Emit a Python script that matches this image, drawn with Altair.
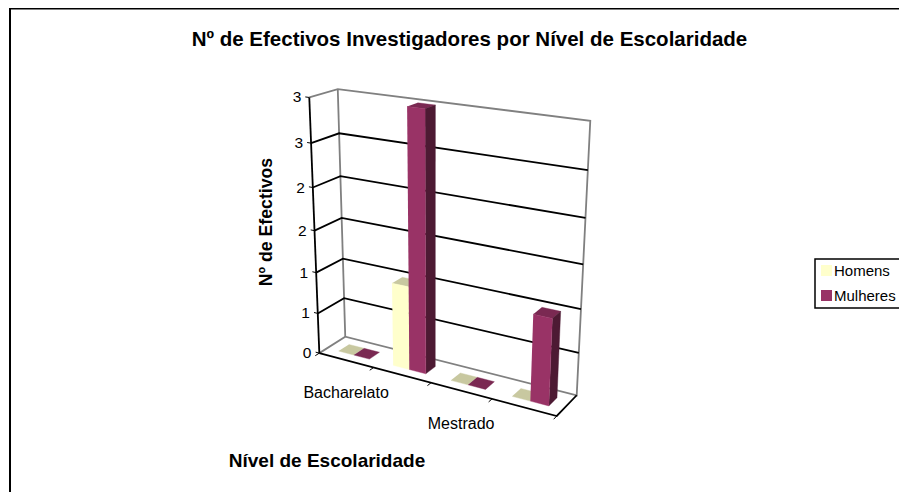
import altair as alt
import numpy as np
import pandas as pd

W, H = 891, 484
FONT = "Liberation Sans"

categories = ["Bacharelato", "", "Mestrado", ""]
homens = [0, 1, 0, 0]
mulheres = [0, 3, 0, 1]
series = ["Homens", "Mulheres"]
series_colors = ["#FFFFCC", "#993366"]
top_colors = ["#C8C8A0", "#7A2952"]
side_colors = ["#99997A", "#4D1A33"]
value_ticks = [0, 0.5, 1, 1.5, 2, 2.5, 3]
value_labels = ["0", "1", "1", "2", "2", "3", "3"]

# camera calibration: (category, depth, value) -> page pixel
calib = [
    ((0, 0, 0), (319.5, 353)), ((4, 0, 0), (557, 416)), ((4, 1, 0), (577, 395)),
    ((0, 1, 0), (345, 337)), ((0, 0, 3), (309, 97)), ((0, 1, 3), (338, 89)),
    ((4, 1, 3), (590, 121)), ((1, 0, 0), (373, 367)), ((2, 0, 0), (431, 383)),
    ((3, 0, 0), (492, 399)), ((0, 0, 0.5), (318, 313)), ((0, 0, 1), (316, 273)),
    ((0, 0, 1.5), (315, 231)), ((0, 0, 2), (313, 188)), ((0, 0, 2.5), (311, 143)),
]
rows = []
for (u, d, v), (px, py) in calib:
    p = [u / 4, d, v / 3, 1]
    sx, sy = px / 500, py / 500
    rows.append(p + [0, 0, 0, 0] + [-sx * c for c in p])
    rows.append([0, 0, 0, 0] + p + [-sy * c for c in p])
CAM = np.linalg.svd(np.array(rows))[2][-1].reshape(3, 4)


def project(u, d, v):
    q = CAM @ np.array([u / 4, d, v / 3, 1])
    return q[0] / q[2] * 500, q[1] / q[2] * 500


xs = alt.Scale(domain=[8, 8 + W], range=[0, W])
ys = alt.Scale(domain=[8, 8 + H], range=[0, H])
X = alt.X("px:Q", scale=xs, axis=None)
Y = alt.Y("py:Q", scale=ys, axis=None)


def frame(points):
    out = [project(*p) for p in points]
    return pd.DataFrame({"px": [a for a, _ in out], "py": [b for _, b in out],
                         "i": list(range(len(out)))})


def face(points, color):
    return alt.Chart(frame(points)).mark_line(
        fill=color, stroke=color, strokeWidth=0.4
    ).encode(x=X, y=Y, order="i:Q")


def polyline(points, color, width=1.5):
    return alt.Chart(frame(points)).mark_line(
        stroke=color, strokeWidth=width
    ).encode(x=X, y=Y, order="i:Q")


layers = []
GRAY = "#808080"
BLACK = "#000000"
# walls
layers.append(polyline([(0, 0, 0), (0, 1, 0), (4, 1, 0), (4, 1, 3), (0, 1, 3), (0, 0, 3)], GRAY, 1.8))
layers.append(polyline([(0, 1, 0), (0, 1, 3)], GRAY, 1.8))
for v in value_ticks[1:-1]:
    layers.append(polyline([(0, 0, v), (0, 1, v), (4, 1, v)], BLACK, 1.8))
# axes
layers.append(polyline([(0, 0, 0), (0, 0, 3)], BLACK, 1.8))
layers.append(polyline([(0, 0, 0), (4, 0, 0), (4, 1, 0)], BLACK, 1.8))
for v in value_ticks:
    layers.append(polyline([(-0.07, 0, v), (0, 0, v)], BLACK, 1))
for u in range(5):
    layers.append(polyline([(u, -0.15, 0), (u, 0, 0)], BLACK, 1))

# bars
A, D0, D1 = 0.214, 0.3, 0.7
for i in range(len(categories)):
    for s, vals in enumerate([homens, mulheres]):
        u0 = i + A + s * (0.5 - A)
        u1 = u0 + 0.5 - A
        v = vals[i]
        layers.append(face([(u0, D0, v), (u1, D0, v), (u1, D1, v), (u0, D1, v)], top_colors[s]))
        if v > 0:
            layers.append(face([(u1, D0, 0), (u1, D1, 0), (u1, D1, v), (u1, D0, v)], side_colors[s]))
            layers.append(face([(u0, D0, 0), (u1, D0, 0), (u1, D0, v), (u0, D0, v)], series_colors[s]))

# tick labels
tick_pts = [project(0, 0, v) for v in value_ticks]
tick_df = pd.DataFrame({"px": [p[0] for p in tick_pts], "py": [p[1] for p in tick_pts], "t": value_labels})
layers.append(alt.Chart(tick_df).mark_text(
    align="right", baseline="middle", dx=-8, font=FONT, fontSize=15.5, color=BLACK
).encode(x=X, y=Y, text="t:N"))

cat_pts = [project(i + 0.5, 0, 0) for i in range(len(categories))]
cat_df = pd.DataFrame({"px": [p[0] for p in cat_pts], "py": [p[1] for p in cat_pts], "t": categories})
layers.append(alt.Chart(cat_df).mark_text(
    align="center", baseline="middle", dy=33, font=FONT, fontSize=16, color=BLACK
).encode(x=X, y=Y, text="t:N"))


def label(text, x, y, size, angle=0, align="center"):
    return alt.Chart(pd.DataFrame({"t": [text]})).mark_text(
        align=align, baseline="middle", font=FONT, fontWeight="bold",
        fontSize=size, angle=angle, color=BLACK
    ).encode(x=alt.value(x - 8), y=alt.value(y - 8), text="t:N")


layers.append(label("Nº de Efectivos Investigadores por Nível de Escolaridade", 469.5, 40, 20.5))
layers.append(label("Nº de Efectivos", 267, 222, 17.7, angle=270))
layers.append(label("Nível de Escolaridade", 327, 461, 19))

# outer frame (top and left only are within the picture)
layers.append(alt.Chart(pd.DataFrame({"a": [0]})).mark_rule(color=BLACK, strokeWidth=2).encode(
    x=alt.value(2), y=alt.value(0), y2=alt.value(H)))
layers.append(alt.Chart(pd.DataFrame({"a": [0]})).mark_rule(color=BLACK, strokeWidth=2).encode(
    x=alt.value(2), x2=alt.value(W), y=alt.value(0.5)))

# legend carrier
pts = [project(1.5, 0.5, 0), project(3.5, 0.5, 0)]
leg_df = pd.DataFrame({"px": [p[0] for p in pts], "py": [p[1] for p in pts], "serie": series})
layers.append(alt.Chart(leg_df).mark_square(size=1, opacity=0).encode(
    x=X, y=Y,
    color=alt.Color("serie:N", scale=alt.Scale(domain=series, range=series_colors), legend=alt.Legend(
        title=None, orient="none", legendX=807, legendY=251, symbolType="square", symbolSize=121,
        symbolOpacity=1, symbolStrokeWidth=0, labelFont=FONT, labelFontSize=15, labelColor=BLACK,
        fillColor="white", strokeColor=BLACK, padding=4, rowPadding=9, labelOffset=0,
    )),
))

chart = alt.layer(*layers).properties(
    width=W, height=H, padding=0, autosize=alt.AutoSizeParams(type="none"), background="white"
).configure_view(stroke=None).configure_legend(strokeWidth=1.5)

chart.save("out.html", embed_options={"renderer": "svg", "actions": False})
